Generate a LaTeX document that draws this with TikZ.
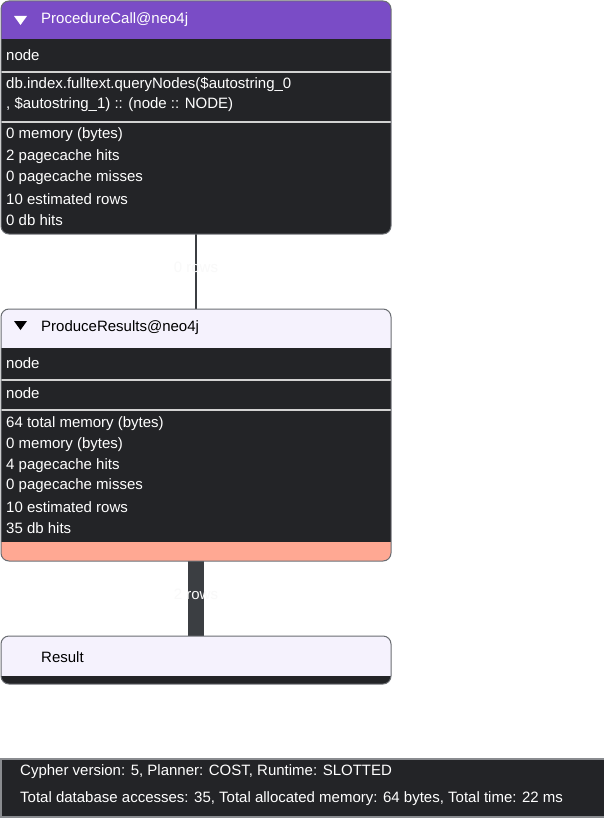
\documentclass[tikz,border=0pt]{standalone}
\usepackage{fontspec}
\setmainfont{Liberation Sans}
\usetikzlibrary{calc}

\definecolor{hdrpurple}{HTML}{7A4CC6}
\definecolor{lavender}{HTML}{F5F2FD}
\definecolor{panel}{HTML}{232427}
\definecolor{frame}{HTML}{6A6D72}
\definecolor{rulecol}{HTML}{D2D2D2}
\definecolor{salmon}{HTML}{FFA893}
\definecolor{edgegray}{HTML}{3B3E42}
\definecolor{footframe}{HTML}{8A8C90}

\tikzset{
  opframe/.style={inner sep=0pt, outer sep=0pt, minimum width=390pt, anchor=north west},
  framedraw/.style={draw=frame, line width=1pt, rounded corners=8pt},
  rowtext/.style={anchor=west, text=white, inner sep=0pt, font=\fontsize{15}{18}\selectfont},
  titletext/.style={anchor=west, inner sep=0pt, font=\fontsize{15}{18}\selectfont},
  divider/.style={draw=rulecol, line width=1.4pt},
  thinedge/.style={draw=edgegray, line width=2pt},
  thickedge/.style={draw=edgegray, line width=16pt},
  edgelabel/.style={text=white!95!gray, inner sep=0pt, font=\fontsize{15}{18}\selectfont},
  toggle/.style={fill=#1},
}

\begin{document}
\begin{tikzpicture}[x=1pt, y=-1pt]
\useasboundingbox[fill=white] (0,0) rectangle (604,837);

% operator frames (placed first so the connectors can refer to them)
\path node[opframe, minimum height=233pt] (pc) at (1,1) {};
\path node[opframe, minimum height=252pt] (pr) at (1,309) {};
\path node[opframe, minimum height=48pt]  (res) at (1,636) {};

% connectors between operators
\draw[thinedge] (pc.south) -- node[edgelabel, pos=0.45] (e1) {0 rows} (pr.north);
\draw[thickedge] (pr.south) -- node[edgelabel, pos=0.45] (e2) {2 rows} (res.north);

% ---- ProcedureCall ----
\begin{scope}
  \clip[rounded corners=8pt] (pc.north west) rectangle (pc.south east);
  \fill[panel] (pc.north west) rectangle (pc.south east);
  \fill[hdrpurple] (pc.north west) rectangle (391,39);
\end{scope}
\draw[divider] (1,72) -- (391,72);
\draw[divider] (1,122) -- (391,122);
\draw[framedraw] (pc.north west) rectangle (pc.south east);
\fill[toggle=white] (14,16) -- (27,16) -- (20.5,25) -- cycle;
\node[titletext, text=white] (pc-title) at (41,20) {ProcedureCall@neo4j};
\node[rowtext] (pc-id) at (6,55) {node};
\node[rowtext] (pc-d1) at (6,85) {db.index.fulltext.queryNodes(\$autostring\_0};
\node[rowtext] (pc-d2) at (6,105) {, \$autostring\_1) :: (node :: NODE)};
\node[rowtext] (pc-s1) at (6,135) {0 memory (bytes)};
\node[rowtext] (pc-s2) at (6,157) {2 pagecache hits};
\node[rowtext] (pc-s3) at (6,178) {0 pagecache misses};
\node[rowtext] (pc-s4) at (6,199) {10 estimated rows};
\node[rowtext] (pc-s5) at (6,220) {0 db hits};

% ---- ProduceResults ----
\begin{scope}
  \clip[rounded corners=8pt] (pr.north west) rectangle (pr.south east);
  \fill[panel] (pr.north west) rectangle (pr.south east);
  \fill[lavender] (pr.north west) rectangle (391,348);
  \fill[salmon] (1,542) rectangle (pr.south east);
\end{scope}
\draw[divider] (1,380) -- (391,380);
\draw[divider] (1,410) -- (391,410);
\draw[framedraw] (pr.north west) rectangle (pr.south east);
\fill[toggle=black] (14,321) -- (27,321) -- (20.5,330) -- cycle;
\node[titletext, text=black] (pr-title) at (41,328) {ProduceResults@neo4j};
\node[rowtext] (pr-id1) at (6,363) {node};
\node[rowtext] (pr-id2) at (6,393) {node};
\node[rowtext] (pr-s1) at (6,424) {64 total memory (bytes)};
\node[rowtext] (pr-s2) at (6,445) {0 memory (bytes)};
\node[rowtext] (pr-s3) at (6,466) {4 pagecache hits};
\node[rowtext] (pr-s4) at (6,486) {0 pagecache misses};
\node[rowtext] (pr-s5) at (6,507) {10 estimated rows};
\node[rowtext] (pr-s6) at (6,528) {35 db hits};

% ---- Result ----
\begin{scope}
  \clip[rounded corners=8pt] (res.north west) rectangle (res.south east);
  \fill[lavender] (res.north west) rectangle (res.south east);
  \fill[panel] (1,676) rectangle (res.south east);
\end{scope}
\draw[framedraw] (res.north west) rectangle (res.south east);
\node[titletext, text=black] (res-title) at (41,657) {Result};

% ---- summary bar ----
\node[inner sep=0pt, outer sep=0pt, anchor=north west, minimum width=610pt, minimum height=58pt,
      fill=panel, draw=footframe, line width=1.4pt] (summary) at (1,759) {};
\node[rowtext] (sum1) at (20,772) {Cypher version: 5, Planner: COST, Runtime: SLOTTED};
\node[rowtext] (sum2) at (20,799) {Total database accesses: 35, Total allocated memory: 64 bytes, Total time: 22 ms};
\end{tikzpicture}
\end{document}
